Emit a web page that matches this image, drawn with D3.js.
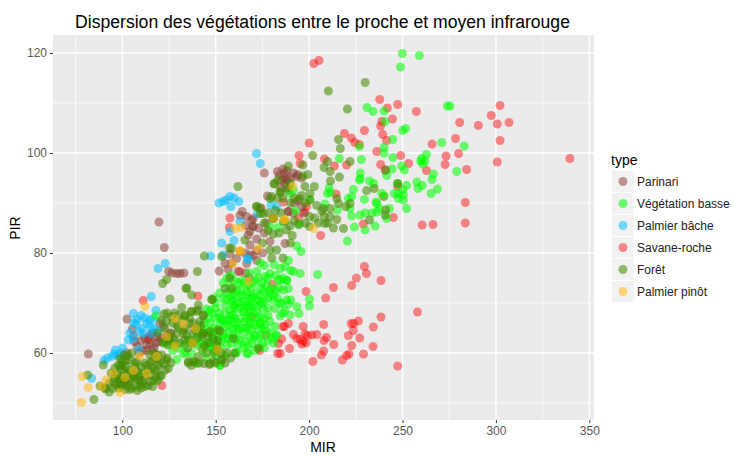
<!DOCTYPE html>
<html>
<head>
<meta charset="utf-8">
<script src="https://cdn.jsdelivr.net/npm/d3@7"></script>
<style>
  html, body { margin: 0; background: #fff; }
  svg { display: block; }
  text { font-family: "Liberation Sans", Arial, sans-serif; }
</style>
</head>
<body>
<div id="mainDiv"></div>
<script>
// [MIR, PIR]
const parinari = [
  [119.6,86.2],[122.5,81.1],[124.8,76.3],[126.6,76],[129.1,75.9],[130.9,75.9],[133,76],[81.8,59.8],
  [102.5,66.8],[105.4,64.8],[105.9,63.4],[106.4,62.3],[108,61.3],[102.3,60],[113,61.6],[114.8,61.9],
  [118.4,63.3],[120.2,65.9],[122,65.3],[119.3,62.3],[138.9,64.7],[128.2,61.4],[137.7,62],[150.9,60.7],
  [151.9,76.4],[156.7,76.7],[158.5,77.9],[163,80.3],[157.6,79.8],[166.6,77.9],[155,77.9],
  [164.2,88.3],[166.5,87.3],[170.1,86.9],[170.1,85.3],[168.3,84.3],[167.4,83.6],[171.9,82.8],[168.3,81.6],
  [179,82.3],[188.8,88.3],[187.1,81.9],[165.6,80],[168.3,79.6],[161.2,78.9],[180.8,86.9],
  [176,96],[183,96.3],[186.8,95.9],[187.1,94.9],[188.4,94.6],[191.6,96],[193.9,95.7],[196,95],[193.4,95.3],
  [177.7,91.4],[188.9,88.3],[196,89.3],[169.3,86.6],[169.8,85.3],[174.3,89],[191.6,88],[185.3,94.6],[187.1,93.9],
  [116,64],[117,61],[121,63],[112,63],[110,62.5],[168,75],[172,78.5],[162,76.3],
  [184,95.5],[186,96.8],[188,96.5],[190,95],[185,93],[189,92.5],[192,90],[194,90.5],[197,88],[173,85],[176,84],
  [177,86],[163,87.5],[166,85.5],[172,80.5],[175,80],[170,79.5],[166,76],[118,62],[116,60.5],[115,63.5],[113,60.5],
  [122,62],[124,63.5],[126,64],[109,60],[111,60.5]
];
const vegetationBasse = [
  [249.9,119.9],[259,119.5],[248.9,117.2],[231,109.1],[234.2,108.3],[240.1,108.4],[274,109.4],[240.7,106.3],
  [251.7,104.9],[250.1,104.5],[244.8,102.7],[226.9,101.3],[240.1,101.1],[240.1,100],[271,102.1],[216.2,98.9],
  [228,98.7],[244.8,99.1],[262.8,99.7],[260.3,98.9],[259.7,98.4],[262,98.4],[260.8,97.8],[249.6,97.4],
  [251,96.6],[244.4,96.8],[241.5,95.5],[227.4,96],[227.4,94.9],[226.9,94.6],[266.5,95.8],[265.8,94.7],
  [232.3,94.4],[234.6,93.9],[257.6,94.2],[260.5,93.5],[258.3,92.9],[252.2,93.5],[247.4,93.9],[268.7,92.8],
  [265.3,91.9],[210.7,93],[211.2,92.1],[209.8,91.9],[223.7,92.7],[222.8,91.3],[221,90.9],[229.6,90.7],
  [235.8,90.2],[236.2,89.9],[238.9,91.9],[240.3,91.4],[245.6,91.9],[247.8,91.9],[250.1,92.6],[250.5,91.6],
  [247.8,90.9],[250.5,90.6],[252.2,88.9],[237.6,88.9],[243,88.9],[233.7,88],[230,88],[227.3,87.6],[222.8,87.4],
  [236.2,88.2],[241.5,86.9],[235.3,85.4],[230,84.6],[224.2,85.2],[208.5,89.8],[200.2,90.7],[192.5,88.4],
  [189.8,91.9],[191.6,92.6],[179.1,85.3],[183.6,85.1],[194.8,85.8],[215.1,88.6],[221.9,88.9],[283,101.4],
  [279,96.3],[275.4,109.4],[220.5,82.4],[193.4,81.4],[195.7,80.3],[188.9,78.5],[181.2,77.7],[187.1,77.3],
  [184.5,76.9],[191.6,76.3],[190.2,76.5],[179,75.9],[176.4,75.3],[195.2,75.9],[204.6,75.7],[184.8,74.6],
  [188,74.6],[186.2,72.6],[188.9,72.9],[200.2,70.8],[200.2,69.4],[190.2,70.6],[188.9,69.8],[193.4,69.3],
  [194.6,67.9],[189.8,67.6],[184.5,67.4],[181.8,68.9],[173.8,71.6],[175.5,72.3],[171.1,71.9],[169.3,70.9],
  [173.8,70.3],[175.5,68.9],[172,68.3],[173.8,65.9],[176.4,65.6],[171.1,65.6],[179,66.3],[181.8,65.3],
  [182.3,63.5],[169.3,61.9],[173.2,61.3],[170.2,62.9],[178.2,72.3],[172,76.3],
  [145.2,68.8],[151.9,67.1],[155,67.9],[157.6,68.6],[159.4,67.6],[162.1,68.9],[164.8,68.3],[167.4,69.3],
  [152.3,65.6],[155,65.3],[157.6,66.6],[160.3,65.9],[163,66.9],[165.7,66.3],[168,67.3],[149.6,62.6],
  [151.4,63.3],[154,63.9],[156.7,62.9],[159.4,63.6],[162.1,64.6],[164.8,63.9],[167.4,64.9],[146.9,61.6],
  [148.7,60.6],[152.3,61.3],[155.9,61.6],[158.5,61.9],[162.1,61.6],[165.7,62.3],[168.3,63.3],[160.9,60],
  [166.6,59.9],[152.3,57.5],[145.2,64.6],[142.5,64.6],[132.7,59.9],[129.1,58.7],[145.5,61.9],[157.6,73.3],
  [161.2,72.6],[163.9,71.6],[166.6,72.3],[162.1,71.3],[165.7,70.3],[168.3,70.9],[159.4,70.6],[155.9,70.6],
  [118,67.4],[133.6,61.6],[136.2,62.6],[139.8,61.6],[122.8,61.9],[139.8,57.9],
  [153.2,66.6],[156.8,65.6],[161.2,64.9],[166.6,66.9],[172.8,70.6],[174.6,69.9],[170.1,71.3],[166.6,71.6],
  [163,72.6],[159.4,71.9],[158.5,70.3],[168.4,69.3],[164.8,68.3],[173.7,67.3],[172.8,64.6],[174.6,63.6],
  [167.5,59.9],[161.2,60.1],[182.6,63.6],[147,61.3],[152.3,57.6],[180.8,70.6],[184.4,69.9],[188,70.6],
  [183.5,74.6],[188,74.5],[176,77.5],[170,74],[164,74.5],[174,73],[160,69.5],[170,66],[175,62],[178,62.5],
  [155,69.5],[150,69],[147,66],[149,65],[180,63],[186,68],[178,69],
  [150,70],[152,72],[154,74],[156,75],[158,75.5],[160,74.5],[162,74],[165,74],[167,73.5],[169,73],[171,74.5],
  [173,75],[175,74],[177,73.5],[179,72],[181,71.5],[183,71],[185,70],[187,68.5],[178,67.5],[176,67],[174,66],
  [172,67],[170,68],[168,66],[166,65],[164,65],[162,66],[160,67],[158,67.5],[156,66.5],[154,66.5],[152,68],
  [150,67],[148,68],[146,67],[144,66],[146,64],[148,63.5],[150,64.5],[153,62.5],[155,63],[157,64],[159,65],
  [161,63],[163,62.5],[165,61],[167,61.5],[169,64.5],[171,63.5],[173,63],[175,65],[177,64.5],[179,64],[181,62],
  [168,68],[166,69.5],[164,70],[162,70],[160,69],[158,71.5],[156,72],[154,71],[170,69.5],[172,69.5],[176,70.5],
  [178,71],[180,73],[182,72.5],[184,73],[186,75],[182,75.5],[178,75],[174,78],[168,76],[171,60.5],[176,61],
  [150,59.5],[155,59.5],[145,59],[143,60.5],[137,60],[134,60],[127,60.5],[130,61],[126,62],[140,64],[141,62.5],
  [143,62],[147,68.5],[149,71]
];
const palmierBache = [
  [171.8,99.9],[173.9,97.9],[151.7,90],[154,90.3],[155.5,90.6],[157.6,91.3],[159.9,91],[162.4,90.3],[158.1,89.3],
  [182.6,89.3],[179.6,89.6],[172.4,87.9],[163,86.3],[157.6,84.3],[153.2,82],[159.8,82.5],[147.3,79.4],[154,79.6],
  [166.9,78.9],[167.4,78.7],[119.1,76.9],[123,77.9],[115.5,71.3],[105.9,67.9],[118,68.5],[108,66.7],[107.3,65.9],
  [114.5,66.6],[116.6,66.9],[113,65.9],[114.8,65.3],[110.4,64.9],[109.1,64.3],[103.2,62.6],[105.9,62.9],[115.4,63.9],
  [100.2,61],[96.3,60.6],[94.5,59.3],[95.6,59.8],[90.2,58.5],[83.6,54.9],[108.9,60.7],[111.2,63.9],
  [112,67],[110,67.5],[106,66],[104,64],[117,65],[119,64.5],[92,59],[98,59.5],[99,60]
];
const savaneRoche = [
  [205.3,118.5],[202.5,117.9],[237.8,110.7],[247.4,109.7],[257.4,108.3],[241.9,109],[244.6,106.8],[238.9,106.3],
  [238.3,105.4],[218.9,103.9],[229.6,104.5],[239.4,103.7],[241.5,102.5],[222.6,103],[224.4,102.1],[226.9,101.7],
  [200,102],[265.8,101.8],[236.2,100.3],[249,99.5],[273.3,99.4],[194.6,99.5],[195.2,97.9],[208.2,98.8],[213.5,97.4],
  [220.1,97.6],[238.3,97.7],[253.3,97.9],[272.8,97.7],[262.8,96.5],[240.7,96.6],[214.4,91.8],[186.2,90.2],[239.8,91.3],
  [247.4,93.3],[245.1,87.1],[260.5,85.6],[266.3,85.7],[229,85.8],[194.3,87],[198.7,89.3],[197.8,88.2],
  [302.2,109.5],[297.5,107.5],[280.6,106.1],[290.6,105.5],[300.7,105.8],[307,106.1],[278.4,102.9],[302.2,102.5],
  [280,99.9],[300.7,98.2],[339.6,98.9],[284.3,96.7],[283.6,90.1],[283.6,86],
  [206.2,83.5],[229.6,77.3],[230.7,75.9],[225.3,75],[238.5,74.5],[222.8,73.5],[213,73.1],[198.4,72.3],[208.9,71],
  [180.4,73.7],[258,68.2],[238.5,67.2],[226.4,66.4],[222.5,65.9],[223.9,65.9],[223.7,64.5],[234.4,65.2],[207.8,65.7],
  [196.8,65.3],[188.9,65.9],[186.8,65.3],[221,63.5],[227.1,63],[209.3,63.1],[208,62.5],[204.1,63.7],[201.4,63.6],
  [199.1,63.5],[197.8,63.8],[191.6,63.7],[193.4,62.9],[195.2,62.7],[196.9,62.3],[196.1,61.8],[198.4,62],[185.3,62.8],
  [183.6,61.9],[213.2,61.7],[222.8,61.5],[234.2,61.3],[189.5,60.9],[207.8,60.4],[206.6,59.6],[221.4,59.8],[220.1,59.5],
  [217.8,58.6],[229.1,59.8],[202,58.3],[183.2,59.9],[184.5,59.9],[173.6,60.5],[176.8,63.6],[247.4,57.4],
  [111.2,70.5],[140.5,71.4],[121.2,53.5],[113.9,62.9],[114.3,62.7],[142.6,61],[163,76.3],[157.6,87],[157.3,85.1],
  [169.3,67.3],[186,65.3]
];
const foret = [
  [230,114.1],[210.3,112.4],[220.5,108.8],[215.7,102.7],[216.7,100.9],[201.9,99.5],[188.9,97.4],[196.6,97.6],
  [209.8,98.3],[208,97.1],[211.2,96.3],[221.9,98.3],[216.2,95.2],[211.4,94.4],[199.3,95.7],[196.6,95.4],[181.2,93.8],
  [183.2,94.6],[197.8,93.3],[202.8,93.3],[184.8,92.1],[200.5,91.9],[179.1,90.9],[194.8,90.9],[172,89.3],[173.8,87.9],
  [200.5,90.6],[204.1,89.5],[207.6,88.9],[211.2,88.9],[214.8,90.9],[215.7,89.9],[219.6,89.3],[221.9,89.9],[230.8,92.5],
  [234.8,92.9],[241,88.6],[240.7,87.6],[232.3,86.6],[241,96.6],[206.8,88.4],[208.5,85.9],[214.8,86.7],[211.2,87.3],
  [200.2,87.3],[200.2,85.3],[189.8,85.4],[194.3,85.7],[180.9,86.9],[208,87.3],[218.4,84.9],[187.1,86.4],[247.4,93.9],
  [161.9,93.3],[181.5,93.9],[184.4,92.3],[179.9,91.3],[171.9,89.3],[173.7,88.9],[175.5,87.9],[165.6,82.6],[157.3,81],
  [180.8,86.9],[186.2,86.3],[187.9,84.6],[180.8,83.8],[179,80.6],[182.6,80.6],[143.9,79.4],[153.2,79.3],
  [84.8,50.7],[89.8,57.6],[81.5,55.6],[123.7,74.7],[121.6,73.9],[140.2,76.3],[134.1,72.9],[137.1,71.6],[125.5,70.8],
  [131.8,69.1],[140.7,69.6],[148.2,70.7],[157.6,75],[155,72.9],[158.5,80.9],
  [88.1,53.4],[90.7,53.1],[93,52.2],[96.6,53.6],[99.7,53.3],[104.1,52.7],[97.9,54.9],[101.4,54.3],[99.7,56.6],
  [103.2,55.9],[100.2,58.3],[104.1,58.6],[100.9,59.6],[107.7,58.3],[110.4,57.2],[108,56.3],[105,54.9],[108.6,54.6],
  [112.1,53.3],[116.2,53.3],[120.2,55.3],[122.9,56.6],[124.6,56.9],[119.3,57.6],[117.5,56.6],[114.8,55.6],[114.8,59.6],
  [117.5,59.9],[121.1,59.6],[123.7,58.6],[112.1,55.3],[109.5,53.6],[102.3,57.2],[97.9,57.6],[98.8,58.9],[106.8,57.2],
  [95.2,54.3],[98.8,53.9],[97,55.9],[113.9,56.6],[118.4,58.9],[106.8,53.3],[101.4,52.7],[114.8,54.3],[118.4,56.3],
  [122,57.9],[94.8,52.9],
  [122.3,67.8],[126.4,67.3],[129.1,65.6],[131.8,66.6],[133.6,67.4],[137.1,68.3],[139.8,68.3],[143.4,67.4],[141.6,66.3],
  [136.2,65.9],[132.7,64.6],[129.1,63.9],[125.5,63.9],[122,62.3],[124.6,61.6],[135.3,58],[138,58.3],[140.7,59.3],
  [143.7,57.9],[146.6,57.7],[148.7,58.3],[153.2,58.7],[143,63.9],[146,63.4],[148.7,62.9],[151.4,64.6],[122.8,64.9],
  [123.7,66.3],[134.4,63.6],[138,63.9],[150.5,61.6],[142.5,63.3],
  [134.5,73],[147.8,70.7],[158.6,72.9],[133.6,67.6],[137.1,68.3],[140.7,68.6],[143.4,67.6],[132.7,63.9],[135.4,62.6],
  [143.4,63.9],[147,64.3],[152.3,64.3],[159.4,62.9],[135.4,58.3],[139,58.2],[147,57.9],[153.2,58.6],[172.8,60.9],[150.5,60.7],
  [96,57],[100,55],[102,54],[103,53.5],[105,53],[107,55],[109,55.5],[110,54.5],[111,56],[113,57.5],[115,58],[116,57],
  [117,54.5],[118,55],[119,54.5],[121,55.5],[116,58.5],[112,58],[104,56.5],[106,55.5],[101,56],[99,57.5],[100,57.5],
  [102,58.5],[103,59.5],[105,60],[99,54.5],[96,55],[93,54],[91,52.8],[98,53],[108,52.5],[110,53],[114,53.5],[120,58],
  [119,59.5],[124,59],[126,58],[111,54],[104,54.5],[107,58],[94,56],
  [124,68],[127,66],[128,68],[130,67.5],[134,65],[136,67],[138,66],[140,65],[142,65.5],[127,63],[125,62.5],[128,62.5],
  [131,62],[133,62.5],[135,61],[138,62],[140,63],[146,62],[149,60],[151,62.5],[153,60],[141,58],[137,57.5],[156,60],
  [130,65],[119,64],[121,66.5],
  [176,86],[178,88],[182,88.5],[185,88],[190,90],[192,91],[196,91.5],[198,90],[203,87],[205,86],[210,86],[213,85],
  [198,86],[192,86.5],[184,84],[178,84.5],[175,82],[180,79],[186,79],[190,82],[183,91],[188,93],[190,94],[186,91],[191,83.5],
  [145,60],[150,58],[155,58],[158,59],[160,60],[144,61.5]
];
const palmierPinot = [
  [78.1,50.1],[81.8,53.1],[78.6,55.3],[89,53.3],[91.3,54.6],[95.2,55.9],[98.8,52.1],[101.4,55.1],[105.9,56.5],
  [112.1,69.3],[109.5,59.4],[118.4,59.3],[128.2,66.9],[132.7,65.8],[123.7,63.3],[113,55.9],[139.3,64.9],[137.7,62],
  [128.2,61.4],[150.9,60.7],[159.1,77.8],[163,80.3],[167.4,74.3],[160.6,84.9],[163.5,85.1],[187.1,86.7],[172.8,80.9],
  [163,80.5],[191.2,93.3],[186.6,86.6],[202.3,84.9],[180.9,86.9]
];

const typeNames = ["Parinari", "Végétation basse", "Palmier bâche", "Savane-roche", "Forêt", "Palmier pinôt"];
const typeColors = ["#8b3e2f", "#00ff00", "#00bfff", "#ff0000", "#458b00", "#ffb90f"];
const typeAlphas = [0.52, 0.55, 0.55, 0.45, 0.57, 0.55];
const typeValues = [parinari, vegetationBasse, palmierBache, savaneRoche, foret, palmierPinot];
const drawOrder = [3, 0, 2, 1, 4, 5];

const xMajorTicks = [100, 150, 200, 250, 300, 350];
const xMinorTicks = [75, 125, 175, 225, 275, 325];
const yMajorTicks = [60, 80, 100, 120];
const yMinorTicks = [50, 70, 90, 110];

const chartTitle = "Dispersion des végétations entre le proche et moyen infrarouge";
const pointRadius = 4.5;

const chartSize = {
  margin: { top: 35, right: 139, bottom: 35, left: 53 },
  height: 455,
  width: 733,
};

const x = d3.scaleLinear()
  .domain([62.9, 352.5])
  .range([chartSize.margin.left, chartSize.width - chartSize.margin.right]);

const y = d3.scaleLinear()
  .domain([46.6, 123.6])
  .range([chartSize.height - chartSize.margin.bottom, chartSize.margin.top]);

const svg = d3.select("#mainDiv")
  .append("svg")
  .attr("width", chartSize.width)
  .attr("height", chartSize.height);

// panel
svg.append("rect")
  .attr("x", x.range()[0])
  .attr("y", y.range()[1])
  .attr("width", x.range()[1] - x.range()[0])
  .attr("height", y.range()[0] - y.range()[1])
  .attr("fill", "#ebebeb");

function addVerticalGrid(ticks, width) {
  svg.append("g")
    .selectAll("line")
    .data(ticks)
    .join("line")
    .attr("x1", d => x(d))
    .attr("x2", d => x(d))
    .attr("y1", y.range()[0])
    .attr("y2", y.range()[1])
    .attr("stroke", "#fff")
    .attr("stroke-width", width);
}

function addHorizontalGrid(ticks, width) {
  svg.append("g")
    .selectAll("line")
    .data(ticks)
    .join("line")
    .attr("x1", x.range()[0])
    .attr("x2", x.range()[1])
    .attr("y1", d => y(d))
    .attr("y2", d => y(d))
    .attr("stroke", "#fff")
    .attr("stroke-width", width);
}

addVerticalGrid(xMinorTicks, 0.7);
addHorizontalGrid(yMinorTicks, 0.7);
addVerticalGrid(xMajorTicks, 1.4);
addHorizontalGrid(yMajorTicks, 1.4);

// points
drawOrder.forEach(i => {
  svg.append("g")
    .attr("fill", typeColors[i])
    .attr("fill-opacity", typeAlphas[i])
    .selectAll("circle")
    .data(typeValues[i])
    .join("circle")
    .attr("cx", d => x(d[0]))
    .attr("cy", d => y(d[1]))
    .attr("r", pointRadius);
});

// axes
const xAxis = g => g
  .attr("transform", `translate(0,${y.range()[0]})`)
  .call(d3.axisBottom(x).tickValues(xMajorTicks).tickSize(3).tickPadding(3));

const yAxis = g => g
  .attr("transform", `translate(${x.range()[0]},0)`)
  .call(d3.axisLeft(y).tickValues(yMajorTicks).tickSize(3).tickPadding(3));

svg.append("g").call(xAxis);
svg.append("g").call(yAxis);

svg.selectAll(".domain").remove();
svg.selectAll(".tick line").attr("stroke", "#333").attr("stroke-width", 1);
svg.selectAll(".tick text")
  .attr("fill", "#5a5a5a")
  .attr("font-size", 12)
  .attr("font-family", "Liberation Sans");

// titles
svg.append("text")
  .attr("x", 322.5)
  .attr("y", 28)
  .attr("text-anchor", "middle")
  .attr("font-size", 17.6)
  .attr("fill", "#000")
  .text(chartTitle);

svg.append("text")
  .attr("x", 323)
  .attr("y", 452)
  .attr("text-anchor", "middle")
  .attr("font-size", 14)
  .text("MIR");

svg.append("text")
  .attr("transform", "translate(20,228) rotate(-90)")
  .attr("text-anchor", "middle")
  .attr("font-size", 14)
  .text("PIR");

// legend
const legend = svg.append("g").attr("transform", "translate(612,171)");

legend.append("text")
  .attr("x", -1)
  .attr("y", -6)
  .attr("font-size", 14)
  .text("type");

const legendRows = legend.selectAll("g")
  .data(typeNames)
  .join("g")
  .attr("transform", (d, i) => `translate(0,${i * 22})`);

legendRows.append("rect")
  .attr("width", 21.5)
  .attr("height", 21)
  .attr("fill", "#f2f2f2");

legendRows.append("circle")
  .attr("cx", 11)
  .attr("cy", 10.5)
  .attr("r", pointRadius)
  .attr("fill", (d, i) => typeColors[i])
  .attr("fill-opacity", (d, i) => typeAlphas[i]);

legendRows.append("text")
  .attr("x", 25)
  .attr("y", 15)
  .attr("font-size", 12)
  .attr("fill", "#222")
  .text(d => d);
</script>
</body>
</html>
